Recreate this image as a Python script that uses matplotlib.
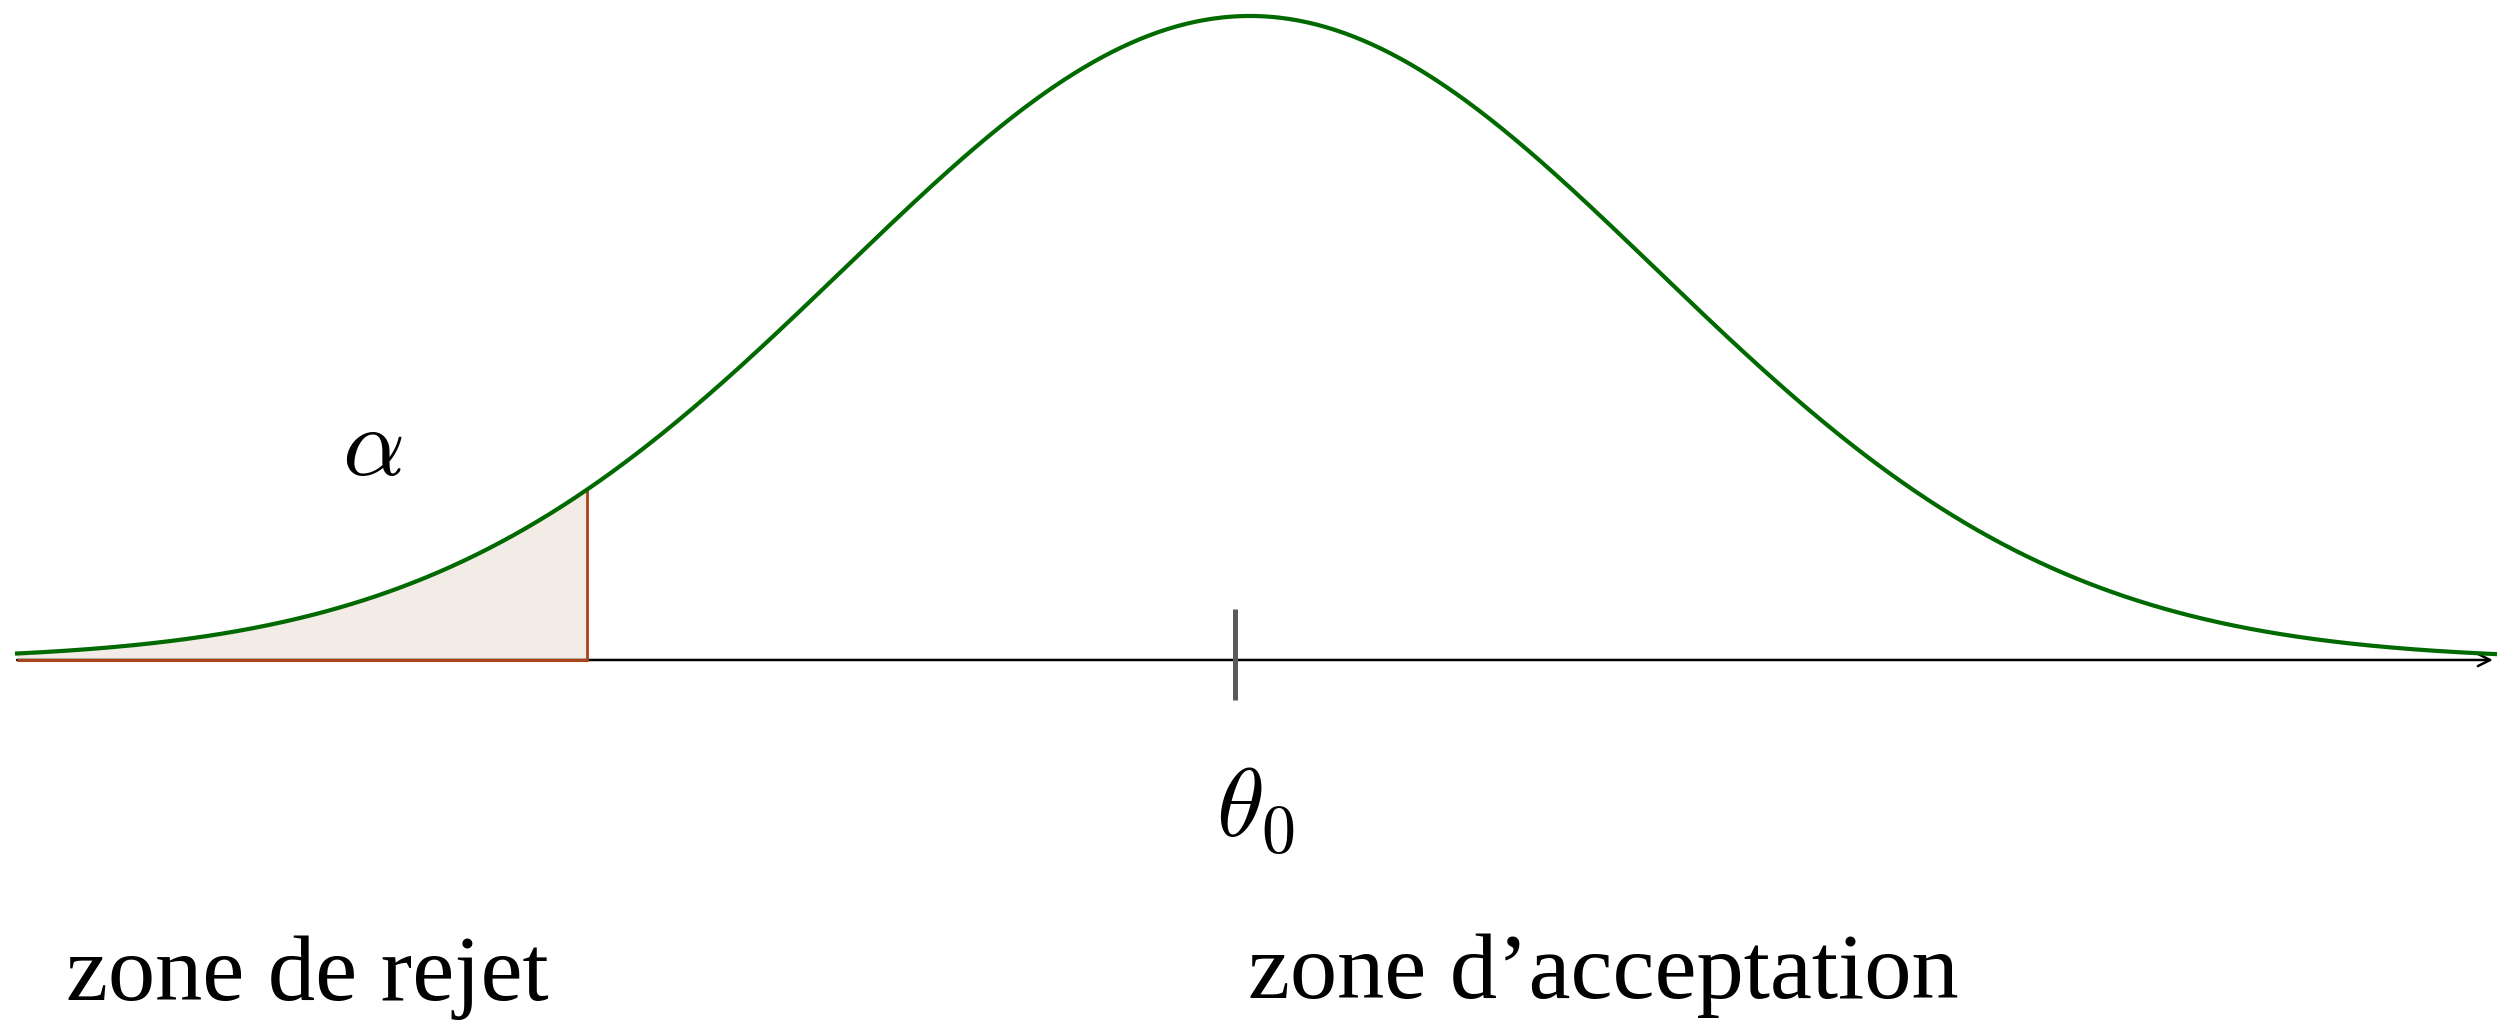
import numpy as np
import matplotlib
matplotlib.use("Agg")
import matplotlib.pyplot as plt

# ---- data ----
mu = 0.0            # centre of the curve (theta_0)
sigma = 1.0
z_crit = -1.63      # boundary of the rejection zone
theta0_tick = -0.037
x_start, x_end = -3.033, 3.063
labels_zone = ["zone de rejet", "zone d\u2019acceptation"]
label_alpha = r"$\alpha$"
label_theta = r"$\theta_0$"

W, H = 2512, 1023
fig = plt.figure(figsize=(W / 100, H / 100), dpi=100)
ax = fig.add_axes([0, 0, 1, 1])
ax.set_xlim(-3.075, 3.105)
ax.set_ylim(-0.5637, 1.0248)
ax.axis("off")
plt.rcParams["mathtext.fontset"] = "cm"

x = np.linspace(x_start, x_end, 800)
y = np.exp(-0.5 * ((x - mu) / sigma) ** 2)

green = "#006a00"
rust = "#a8431a"
fill = "#f3ebe5"

# rejection area
xr = x[x <= z_crit]
xr = np.append(xr, z_crit)
yr = np.exp(-0.5 * ((xr - mu) / sigma) ** 2)
ax.fill_between(xr, 0, yr, color=fill, lw=0, zorder=1)

# axis with arrow
ax.annotate("", xy=(3.058, 0), xytext=(x_start, 0),
            arrowprops=dict(arrowstyle="->", lw=1.8, color="black",
                            mutation_scale=22, shrinkA=0, shrinkB=0),
            zorder=2)
# rust baseline and vertical boundary
ax.plot([x_start, z_crit], [0, 0], color=rust, lw=2.2, zorder=3,
        solid_capstyle="butt")
ax.plot([z_crit, z_crit], [0, np.exp(-0.5 * ((z_crit - mu) / sigma) ** 2)],
        color=rust, lw=2.0, zorder=3)

# curve
ax.plot(x, y, color=green, lw=3.0, zorder=4)

# theta0 tick
ax.plot([theta0_tick, theta0_tick], [0.079, -0.062], color="#5a5a5a",
        lw=3.6, zorder=5, solid_capstyle="butt")

def fx(px):
    return px / W

def fy(py):
    return 1 - py / H

fig.text(fx(372), fy(475), label_alpha, fontsize=70, ha="center",
         va="baseline")
fig.text(fx(1216), fy(837), label_theta, fontsize=70, ha="left",
         va="baseline")
fig.text(fx(66), fy(1000), labels_zone[0], fontsize=68,
         family="Liberation Serif", ha="left", va="baseline")
fig.text(fx(1248), fy(998), labels_zone[1], fontsize=68,
         family="Liberation Serif", ha="left", va="baseline")

fig.savefig("out.png", dpi=100, facecolor="white")
